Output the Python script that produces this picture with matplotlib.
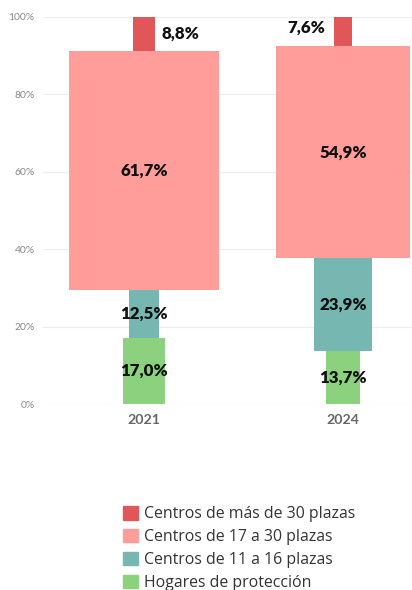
import matplotlib

matplotlib.use("Agg")
import matplotlib.pyplot as plt
import numpy as np
from matplotlib.patches import Patch

plt.rcParams["font.family"] = ["Lato", "DejaVu Sans"]

years = ["2021", "2024"]
# stacked bottom -> top
categories = [
    "Hogares de protección",
    "Centros de 11 a 16 plazas",
    "Centros de 17 a 30 plazas",
    "Centros de más de 30 plazas",
]
hogares = [17.0, 13.7]
centros_11_16 = [12.5, 23.9]
centros_17_30 = [61.7, 54.9]
centros_30_mas = [8.8, 7.6]
yticks = [0, 20, 40, 60, 80, 100]

colors = ["#8CD17D", "#76B7B2", "#FF9D9A", "#E15759"]
series = [hogares, centros_11_16, centros_17_30, centros_30_mas]

# bar width is proportional to the share (marimekko-like look)
WIDTH_PER_PCT = 0.01221

fig = plt.figure(figsize=(4.12, 5.90), dpi=100)
ax = fig.add_axes([43 / 412, 1 - 404 / 590, 1 - 43 / 412, 404 / 590])

x = np.arange(len(years))
bottom = np.zeros(len(years))
for vals, color in zip(series, colors):
    vals = np.asarray(vals)
    ax.bar(x, vals, width=vals * WIDTH_PER_PCT, bottom=bottom, color=color,
           zorder=2, linewidth=0)
    bottom += vals

# labels
label_kw = dict(fontsize=12.2, fontweight="heavy", color="#111111", zorder=3)
bottom = np.zeros(len(years))
for si, vals in enumerate(series):
    for i, v in enumerate(vals):
        mid = bottom[i] + v / 2
        txt = f"{v:.1f}%".replace(".", ",")
        if si == 3:
            half = v * WIDTH_PER_PCT / 2
            if i == 0:
                ax.text(x[i] + half + 0.035, mid, txt, ha="left", va="center", **label_kw)
            else:
                ax.text(x[i] - half - 0.045, mid + 0.9, txt, ha="right", va="center", **label_kw)
        else:
            ax.text(x[i], mid, txt, ha="center", va="center", **label_kw)
    bottom += np.asarray(vals)

ax.set_xlim(-0.508, 1.347)
ax.set_ylim(0, 404 / 3.87)
ax.set_yticks(yticks)
ax.set_yticklabels([f"{t}%" for t in yticks], fontsize=7.5, color="#888888")
ax.set_xticks(x)
ax.set_xticklabels(years, fontsize=10.2, fontweight="bold", color="#666666")
ax.tick_params(axis="both", length=0)
ax.tick_params(axis="y", pad=6)
ax.tick_params(axis="x", pad=7)
for s in ax.spines.values():
    s.set_visible(False)
ax.grid(axis="y", color="#ececec", linewidth=0.8, zorder=0)
ax.set_axisbelow(True)

handles = [Patch(color=c, label=l) for c, l in zip(colors[::-1], categories[::-1])]
fig.legend(handles=handles, loc="upper left", bbox_to_anchor=(109 / 412, 1 - 492 / 590),
           frameon=False, prop={"family": ["Open Sans", "DejaVu Sans"], "size": 11.4},
           handlelength=0.92, handleheight=0.92,
           handletextpad=0.42, labelspacing=0.42, labelcolor="#333333")

fig.savefig("out.png", dpi=100)
